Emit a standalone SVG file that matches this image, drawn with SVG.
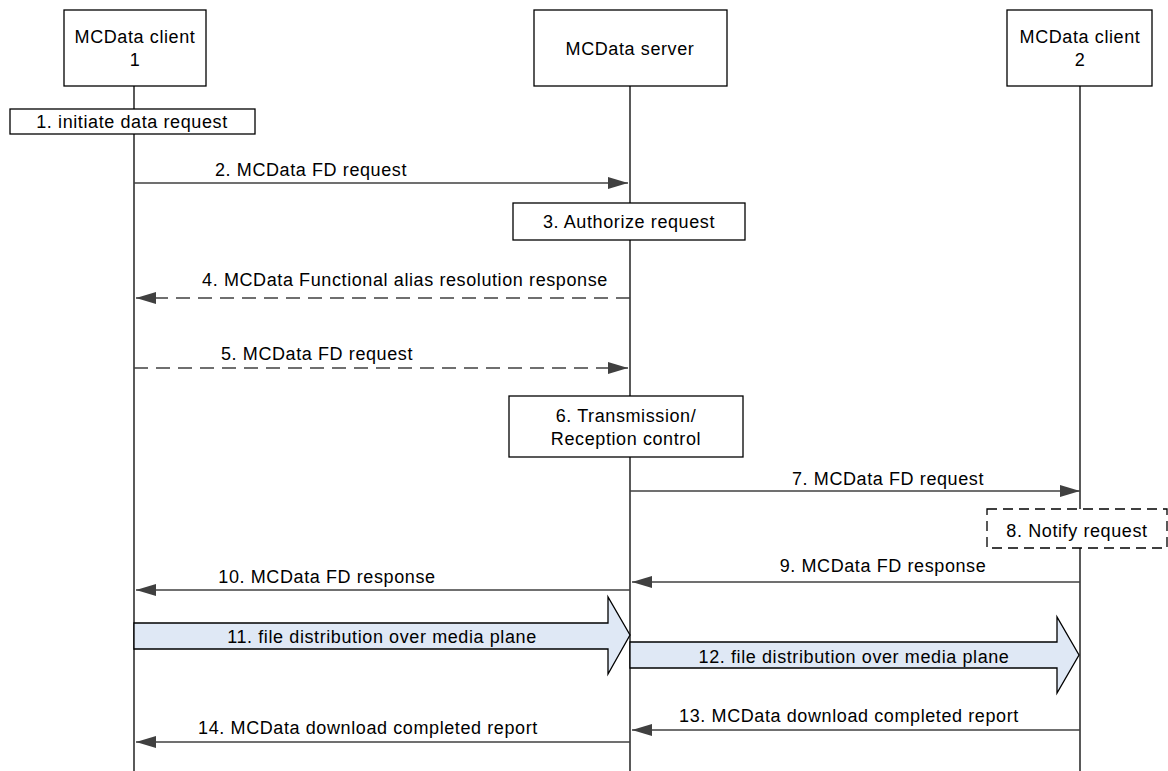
<svg xmlns="http://www.w3.org/2000/svg" width="1168" height="771" viewBox="0 0 1168 771">
<style>
text{font-family:"Liberation Sans",Arial,sans-serif;font-size:18px;letter-spacing:0.6px;fill:#000;text-anchor:middle}
.box{fill:#fff;stroke:#000;stroke-width:1.3}
.dbox{fill:#fff;stroke:#000;stroke-width:1.3;stroke-dasharray:10 6}
.life{stroke:#000;stroke-width:1.3;fill:none}
.msg{stroke:#404040;stroke-width:1.3;fill:none}
.dash{stroke-dasharray:14 8}
.blk{fill:#dfe8f5;stroke:#000;stroke-width:1.3}
</style>
<defs>
<marker id="ah" markerWidth="20" markerHeight="12" refX="20" refY="6" orient="auto" markerUnits="userSpaceOnUse">
<path d="M0,0 L20,6 L0,12 Z" fill="#404040"/>
</marker>
</defs>
<g id="lifelines">
<line class="life" x1="134" y1="86" x2="134" y2="771"/>
<line class="life" x1="630" y1="86" x2="630" y2="771"/>
<line class="life" x1="1080" y1="86" x2="1080" y2="771"/>
</g>
<g id="client1">
<rect class="box" x="64" y="10" width="142" height="76"/>
<text x="135" y="43">MCData client</text>
<text x="135" y="66">1</text>
</g>
<g id="server">
<rect class="box" x="534" y="10" width="193" height="76"/>
<text x="630" y="55">MCData server</text>
</g>
<g id="client2">
<rect class="box" x="1007" y="10" width="145" height="76"/>
<text x="1080" y="43">MCData client</text>
<text x="1080" y="66">2</text>
</g>
<g id="step1">
<rect class="box" x="10" y="109" width="245" height="25"/>
<text x="132" y="128">1. initiate data request</text>
</g>
<g id="step3">
<rect class="box" x="513" y="203" width="232" height="37"/>
<text x="629" y="228">3. Authorize request</text>
</g>
<g id="step6">
<rect class="box" x="509" y="396" width="234" height="61"/>
<text x="626" y="422">6. Transmission/</text>
<text x="626" y="445">Reception control</text>
</g>
<g id="step8">
<rect class="dbox" x="987" y="509" width="180" height="39"/>
<text x="1077" y="537">8. Notify request</text>
</g>
<g id="connectors">
<line class="msg" x1="134" y1="183" x2="628" y2="183" marker-end="url(#ah)"/>
<text x="311" y="176">2. MCData FD request</text>
<line class="msg dash" x1="630" y1="298" x2="136" y2="298" marker-end="url(#ah)"/>
<text x="405" y="286">4. MCData Functional alias resolution response</text>
<line class="msg dash" x1="134" y1="368" x2="628" y2="368" marker-end="url(#ah)"/>
<text x="317" y="360">5. MCData FD request</text>
<line class="msg" x1="630" y1="491" x2="1080" y2="491" marker-end="url(#ah)"/>
<text x="888" y="485">7. MCData FD request</text>
<line class="msg" x1="1080" y1="582" x2="632" y2="582" marker-end="url(#ah)"/>
<text x="883" y="572">9. MCData FD response</text>
<line class="msg" x1="630" y1="590" x2="136" y2="590" marker-end="url(#ah)"/>
<text x="327" y="583">10. MCData FD response</text>
<path class="blk" d="M134,623 L608,623 L608,597 L630,635 L608,674 L608,649 L134,649 Z"/>
<text x="382" y="643">11. file distribution over media plane</text>
<path class="blk" d="M630,642 L1057,642 L1057,617 L1079,655 L1057,693 L1057,668 L630,668 Z"/>
<text x="854" y="663">12. file distribution over media plane</text>
<line class="msg" x1="1080" y1="730" x2="632" y2="730" marker-end="url(#ah)"/>
<text x="849" y="722">13. MCData download completed report</text>
<line class="msg" x1="630" y1="742" x2="136" y2="742" marker-end="url(#ah)"/>
<text x="368" y="734">14. MCData download completed report</text>
</g>
</svg>
